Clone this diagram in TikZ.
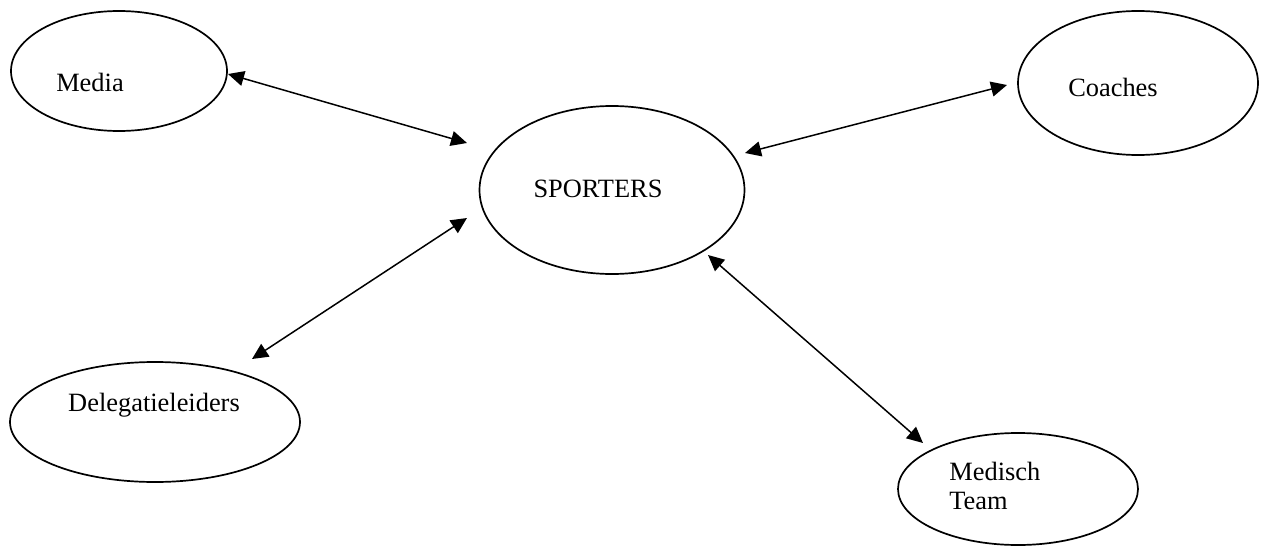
\documentclass[tikz,border=0pt]{standalone}
\usepackage{fontspec}
\setmainfont{Liberation Serif}
\usetikzlibrary{shapes.geometric,arrows.meta}
\begin{document}
\begin{tikzpicture}[x=0.5pt,y=-0.5pt,
  bubble/.style={draw=black,line width=0.85pt,ellipse,inner sep=0pt},
  lbl/.style={inner sep=0pt,font=\fontsize{13.2}{14.5}\selectfont},
  link/.style={line width=0.75pt,{Triangle[length=8pt,width=7.5pt]}-{Triangle[length=8pt,width=7.5pt]}}]
\useasboundingbox (0,0) rectangle (1265,546);
% ellipses
\node[bubble,minimum width=108pt,minimum height=60pt] (media) at (119,71) {};
\node[bubble,minimum width=132.5pt,minimum height=84pt] (sp) at (612,190) {};
\node[bubble,minimum width=120pt,minimum height=72pt] (coach) at (1138,83) {};
\node[bubble,minimum width=145pt,minimum height=60pt] (deleg) at (155,422) {};
\node[bubble,minimum width=120pt,minimum height=56pt] (med) at (1018,489) {};
% labels
\node[lbl,anchor=base] (mediat) at (90,91) {Media};
\node[lbl,anchor=base] (spt) at (598,197) {SPORTERS};
\node[lbl,anchor=base] (coacht) at (1113,97) {Coaches};
\node[lbl,anchor=base] (delegt) at (154,411) {Delegatieleiders};
\node[lbl,anchor=north west,align=left] (medt) at (949,462) {Medisch\\Team};
% connector end points
\coordinate (m1) at (228,74);
\coordinate (m2) at (467,143);
\coordinate (c1) at (745,153);
\coordinate (c2) at (1007,85);
\coordinate (d1) at (467,218);
\coordinate (d2) at (252,359);
\coordinate (t1) at (708,255);
\coordinate (t2) at (923,443);
% connectors
\draw[link] (m1) -- (m2);
\draw[link] (c1) -- (c2);
\draw[link] (d1) -- (d2);
\draw[link] (t1) -- (t2);
\end{tikzpicture}
\end{document}
